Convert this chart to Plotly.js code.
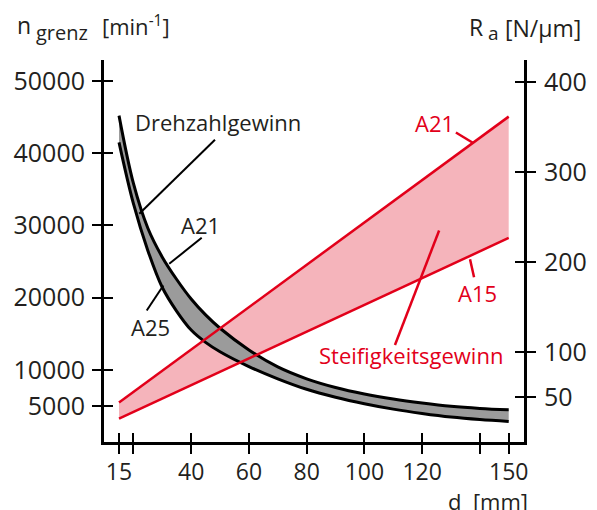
<!DOCTYPE html>
<html><head><meta charset="utf-8">
<script src="https://cdn.plot.ly/plotly-3.0.1.min.js"></script>
<style>html,body{margin:0;padding:0;background:#fff}</style>
</head><body><div id="chart" style="width:597px;height:510px"></div>
<script>
// Drehzahl curves (left axis, n_grenz in 1/min)
const d_curve = [15, 20, 25, 30, 35, 40, 45, 50, 60, 70, 80, 90, 100, 110, 120, 130, 140, 150];
const n_A21 = [45200, 35800, 29600, 25600, 22500, 19800, 17600, 15750, 12750, 10400, 8750, 7550, 6650, 5950, 5400, 4950, 4650, 4450];
const n_A25 = [41500, 33000, 26500, 21400, 18100, 15500, 13800, 12500, 10450, 8750, 7300, 6200, 5300, 4550, 3950, 3450, 3100, 2850];
// Stiffness lines (right axis, R_a in N/µm)
const d_line = [15, 150];
const Ra_A21 = [44, 362];
const Ra_A15 = [26, 227];
// ticks
const xTickVals = [15, 40, 60, 80, 100, 120, 150];
const xMinorVals = [20, 140];
const xAllTicks = [15, 20, 40, 60, 80, 100, 120, 140, 150];
const yTickVals = [5000, 10000, 20000, 30000, 40000, 50000];
const y2TickVals = [50, 100, 200, 300, 400];

const RED = 'rgb(226,0,26)';
const PINK = 'rgb(245,180,187)';
const GRAY = 'rgb(155,155,155)';
const TXT = '#231f20';
const FONT = 'Open Sans';

const xRange = [9.8, 155.3];
const nRange = [0, 52900];
const rRange = [0, 425];

const traces = [
  {x: d_line, y: Ra_A15, xaxis: 'x', yaxis: 'y', mode: 'lines', line: {width: 0, color: PINK}, hoverinfo: 'skip', showlegend: false},
  {x: d_line, y: Ra_A21, xaxis: 'x', yaxis: 'y', mode: 'lines', fill: 'tonexty', fillcolor: PINK, line: {width: 0, color: PINK}, hoverinfo: 'skip', showlegend: false},
  {x: d_curve, y: n_A25, xaxis: 'x', yaxis: 'y2', mode: 'lines', line: {width: 0, color: GRAY, shape: 'spline'}, hoverinfo: 'skip', showlegend: false},
  {x: d_curve, y: n_A21, xaxis: 'x', yaxis: 'y2', mode: 'lines', fill: 'tonexty', fillcolor: GRAY, line: {width: 0, color: GRAY, shape: 'spline'}, hoverinfo: 'skip', showlegend: false},
  {x: d_curve, y: n_A25, xaxis: 'x', yaxis: 'y3', mode: 'lines', line: {width: 3, color: '#000', shape: 'spline'}, showlegend: false},
  {x: d_curve, y: n_A21, xaxis: 'x', yaxis: 'y3', mode: 'lines', line: {width: 3, color: '#000', shape: 'spline'}, showlegend: false},
  {x: d_line, y: Ra_A15, xaxis: 'x', yaxis: 'y4', mode: 'lines', line: {width: 2.5, color: RED}, showlegend: false},
  {x: d_line, y: Ra_A21, xaxis: 'x', yaxis: 'y4', mode: 'lines', line: {width: 2.5, color: RED}, showlegend: false},
  // helper so that the inside x ticks are drawn
  {x: d_line, y: Ra_A15, xaxis: 'x2', yaxis: 'y', mode: 'lines', opacity: 0, line: {width: 0}, hoverinfo: 'skip', showlegend: false}
];

const tickCommon = {tickcolor: '#000', tickwidth: 2, ticklen: 9, showgrid: false, zeroline: false};
const lbl = {family: FONT, size: 25, color: TXT};

function px2paperX(px) { return (px - 104) / 420; }
function px2paperY(py) { return (442 - py) / 382; }

const layout = {
  width: 597, height: 510,
  margin: {l: 104, r: 73, t: 60, b: 68, pad: 0},
  paper_bgcolor: '#fff', plot_bgcolor: 'rgba(0,0,0,0)',
  showlegend: false,
  font: {family: FONT, color: TXT},
  xaxis: Object.assign({}, tickCommon, {range: xRange, tickmode: 'array', tickvals: xTickVals,
    ticks: 'outside', showline: true, linecolor: '#000', linewidth: 3, tickfont: {family: FONT, size: 23, color: TXT},
    minor: {tickmode: 'array', tickvals: xMinorVals, ticks: 'outside', ticklen: 9, tickwidth: 2, tickcolor: '#000', showgrid: false},
    ticklabelstandoff: -2, anchor: 'y2'}),
  xaxis2: Object.assign({}, tickCommon, {range: xRange, tickmode: 'array', tickvals: xAllTicks, overlaying: 'x',
    ticks: 'inside', showticklabels: false, showline: false, side: 'bottom', anchor: 'y'}),
  yaxis: Object.assign({}, tickCommon, {range: rRange, side: 'right', tickmode: 'array', tickvals: y2TickVals,
    ticks: 'outside', showline: true, linecolor: '#000', linewidth: 3, tickfont: lbl, ticklabelstandoff: 3}),
  yaxis2: Object.assign({}, tickCommon, {range: nRange, side: 'left', overlaying: 'y', tickmode: 'array', tickvals: yTickVals,
    tickformat: 'd', ticks: 'outside', showline: true, linecolor: '#000', linewidth: 3, tickfont: lbl, ticklabelstandoff: 2}),
  yaxis3: Object.assign({}, tickCommon, {range: nRange, side: 'left', overlaying: 'y', tickmode: 'array', tickvals: yTickVals,
    ticks: 'inside', showticklabels: false, showline: false}),
  yaxis4: Object.assign({}, tickCommon, {range: rRange, side: 'right', overlaying: 'y', tickmode: 'array', tickvals: y2TickVals,
    ticks: 'inside', showticklabels: false, showline: false}),
  annotations: [
    // labels inside the chart
    {text: 'Drehzahlgewinn', xref: 'x', yref: 'y2', x: 19.95, y: 44250, xanchor: 'left', yanchor: 'middle', showarrow: false, font: {family: FONT, size: 22, color: TXT}},
    {text: 'A21', xref: 'x', yref: 'y2', x: 43.2, y: 30000, xanchor: 'center', yanchor: 'middle', showarrow: false, font: {family: FONT, size: 22, color: TXT}},
    {text: 'A25', xref: 'x', yref: 'y2', x: 26.0, y: 15930, xanchor: 'center', yanchor: 'middle', showarrow: false, font: {family: FONT, size: 22, color: TXT}},
    {text: 'A21', xref: 'x', yref: 'y', x: 124.35, y: 354.9, xanchor: 'center', yanchor: 'middle', showarrow: false, font: {family: FONT, size: 22, color: RED}},
    {text: 'A15', xref: 'x', yref: 'y', x: 139.2, y: 165.6, xanchor: 'center', yanchor: 'middle', showarrow: false, font: {family: FONT, size: 22, color: RED}},
    {text: 'Steifigkeitsgewinn', xref: 'x', yref: 'y', x: 116.1, y: 96.9, xanchor: 'center', yanchor: 'middle', showarrow: false, font: {family: FONT, size: 22, color: RED}},
    // axis titles
    {text: 'n', xref: 'paper', yref: 'paper', x: px2paperX(15), y: px2paperY(25.4), xanchor: 'left', yanchor: 'middle', showarrow: false, font: {family: FONT, size: 23, color: TXT}},
    {text: 'grenz', xref: 'paper', yref: 'paper', x: px2paperX(34), y: px2paperY(32.5), xanchor: 'left', yanchor: 'middle', showarrow: false, font: {family: FONT, size: 20, color: TXT}},
    {text: '[min<sup>-1</sup>]', xref: 'paper', yref: 'paper', x: px2paperX(99.5), y: px2paperY(26), xanchor: 'left', yanchor: 'middle', showarrow: false, font: {family: FONT, size: 22, color: TXT}},
    {text: 'R', xref: 'paper', yref: 'paper', x: px2paperX(466.7), y: px2paperY(26.7), xanchor: 'left', yanchor: 'middle', showarrow: false, font: {family: FONT, size: 23, color: TXT}},
    {text: 'a', xref: 'paper', yref: 'paper', x: px2paperX(486), y: px2paperY(33), xanchor: 'left', yanchor: 'middle', showarrow: false, font: {family: FONT, size: 19, color: TXT}},
    {text: '[N/µm]', xref: 'paper', yref: 'paper', x: px2paperX(503.3), y: px2paperY(27.5), xanchor: 'left', yanchor: 'middle', showarrow: false, font: {family: FONT, size: 23, color: TXT}},
    {text: 'd&nbsp;&nbsp;[mm]', xref: 'paper', yref: 'paper', x: px2paperX(446), y: px2paperY(501), xanchor: 'left', yanchor: 'middle', showarrow: false, font: {family: FONT, size: 22, color: TXT}}
  ],
  shapes: [
    // leader lines
    {type: 'line', xref: 'x', yref: 'y2', x0: 48.25, y0: 41860, x1: 22.03, y1: 31610, line: {color: '#000', width: 2}},
    {type: 'line', xref: 'x', yref: 'y2', x0: 43.65, y0: 28280, x1: 32.4, y1: 24680, line: {color: '#000', width: 2}},
    {type: 'line', xref: 'x', yref: 'y2', x0: 24.6, y0: 18210, x1: 30.35, y1: 21680, line: {color: '#000', width: 2}},
    {type: 'line', xref: 'x', yref: 'y', x0: 131.7, y0: 344.4, x1: 137.7, y1: 332.6, line: {color: RED, width: 2.5}},
    {type: 'line', xref: 'x', yref: 'y', x0: 138.0, y0: 183.4, x1: 136.6, y1: 203.4, line: {color: RED, width: 2.5}},
    {type: 'line', xref: 'x', yref: 'y', x0: 110.6, y0: 108, x1: 125.9, y1: 235.3, line: {color: RED, width: 2.5}}
  ]
};

Plotly.newPlot('chart', traces, layout, {displayModeBar: false, staticPlot: true});
</script>
</body></html>
